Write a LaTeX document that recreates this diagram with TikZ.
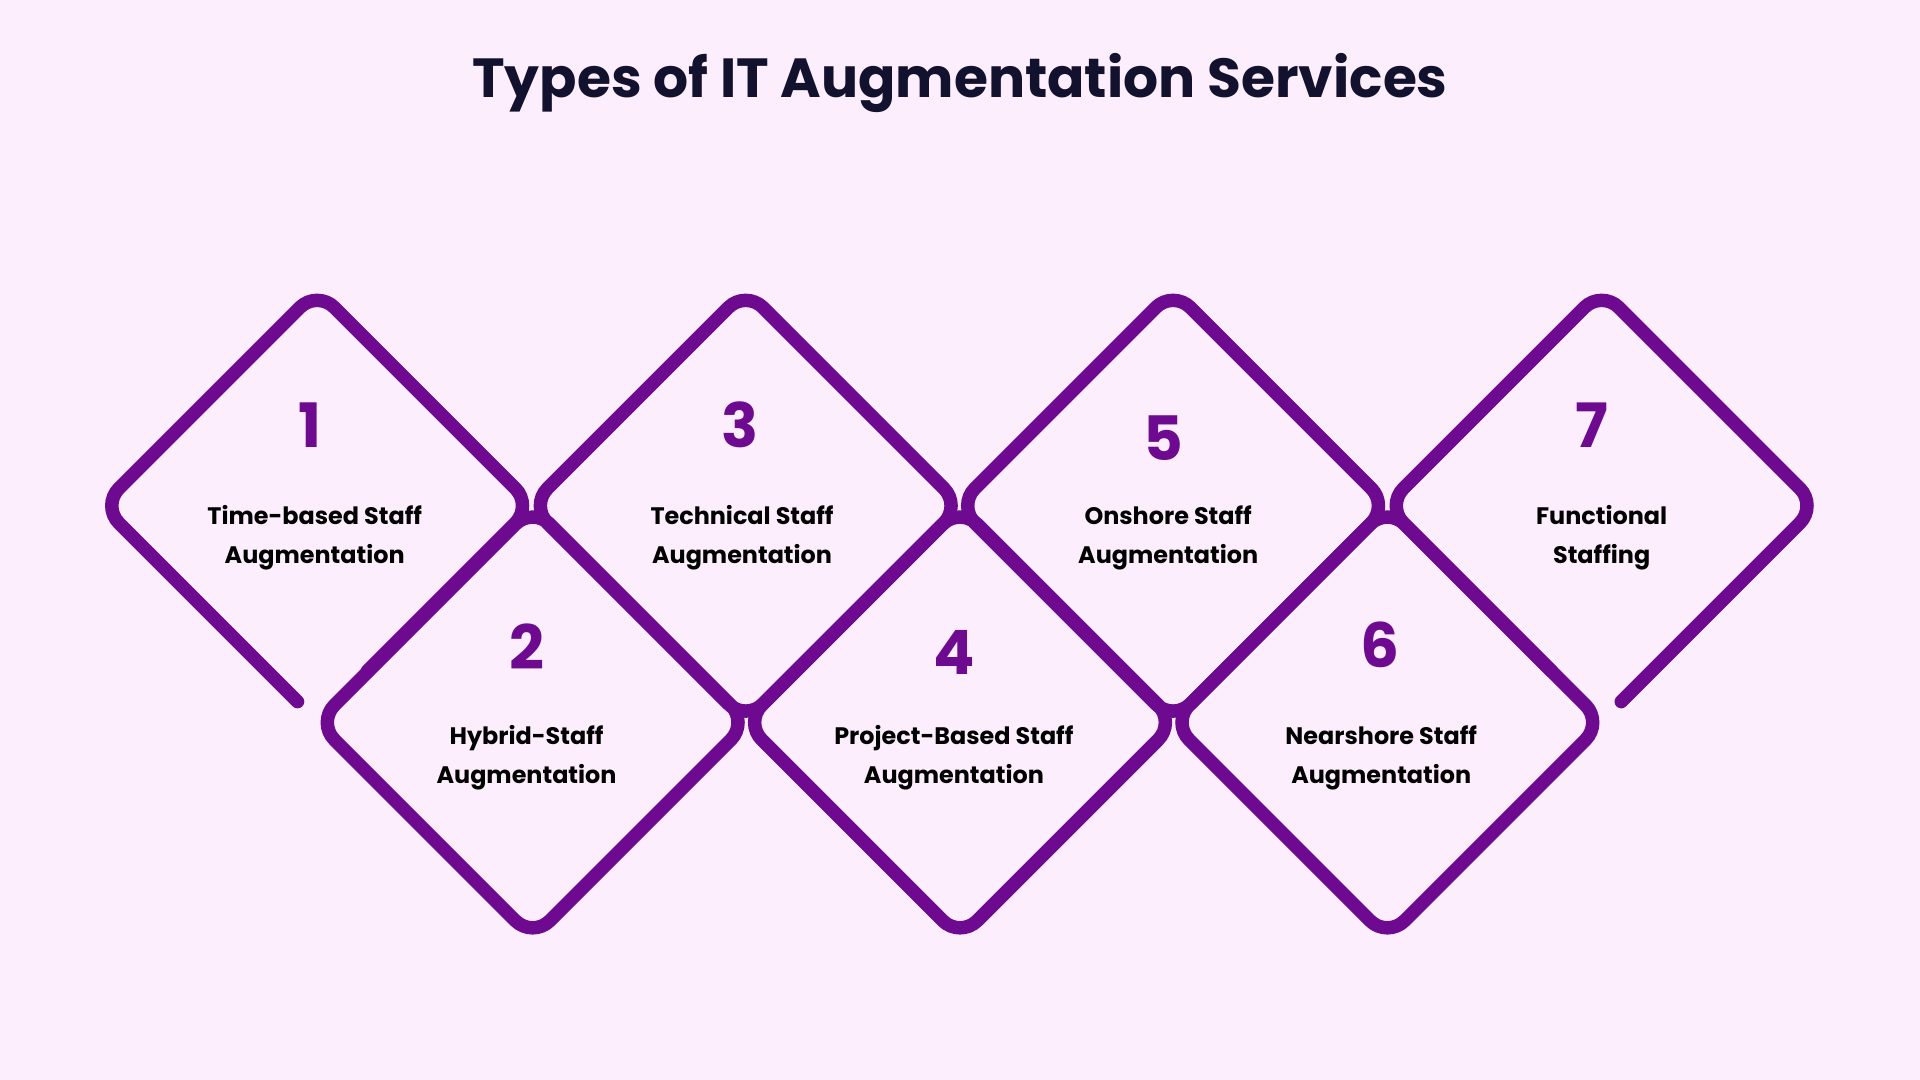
\documentclass[tikz,border=0pt]{standalone}
\usepackage{fontspec}
\setmainfont{Poppins}
\usetikzlibrary{positioning}
\definecolor{bgpink}{HTML}{FCEEFC}
\definecolor{linepurple}{HTML}{6E0A90}
\definecolor{titleink}{HTML}{12122E}
\tikzset{diam/.style = {draw=linepurple, line width=11pt, rounded corners=20pt, line cap=round}}
\tikzset{num/.style = {text=linepurple, font=\fontsize{50}{50}\selectfont\bfseries}}
\tikzset{lbl/.style = {text=black, font=\fontsize{19.5}{32}\selectfont\bfseries, align=center}}
\begin{document}
\begin{tikzpicture}[x=1pt, y=-1pt]
  \fill[bgpink] (0,0) rectangle (1568,882);
  \useasboundingbox (0,0) rectangle (1568,882);
  \node [text=titleink, font=\fontsize{45}{45}\selectfont\bfseries] (title) at (784,68) {Types of IT Augmentation Services};

  % full diamonds 2 to 6
  \foreach \cx/\cy in {435/590, 609/413, 784/590, 958/413, 1133/590}
    \draw[diam] (\cx-176,\cy) -- (\cx,\cy-176) -- (\cx+176,\cy) -- (\cx,\cy+176) -- cycle;
  % first and last diamonds, open at the bottom
  \draw[diam] (243,573) -- (83,413) -- (259,237) -- (435,413) -- (300,548);
  \draw[diam] (1267,548) -- (1132,413) -- (1308,237) -- (1484,413) -- (1324,573);

  \node [num] (n1) at (253,347) {1};
  \node [num] (n2) at (430,528) {2};
  \node [num] (n3) at (604,347) {3};
  \node [num] (n4) at (779,533) {4};
  \node [num] (n5) at (950,358) {5};
  \node [num] (n6) at (1127,527) {6};
  \node [num] (n7) at (1300,347) {7};

  \node [lbl] (l1) at (257,439) {Time-based Staff\\Augmentation};
  \node [lbl] (l2) at (430,619) {Hybrid-Staff\\Augmentation};
  \node [lbl] (l3) at (606,439) {Technical Staff\\Augmentation};
  \node [lbl] (l4) at (779,619) {Project-Based Staff\\Augmentation};
  \node [lbl] (l5) at (954,439) {Onshore Staff\\Augmentation};
  \node [lbl] (l6) at (1128,619) {Nearshore Staff\\Augmentation};
  \node [lbl] (l7) at (1308,439) {Functional\\Staffing};
\end{tikzpicture}
\end{document}
